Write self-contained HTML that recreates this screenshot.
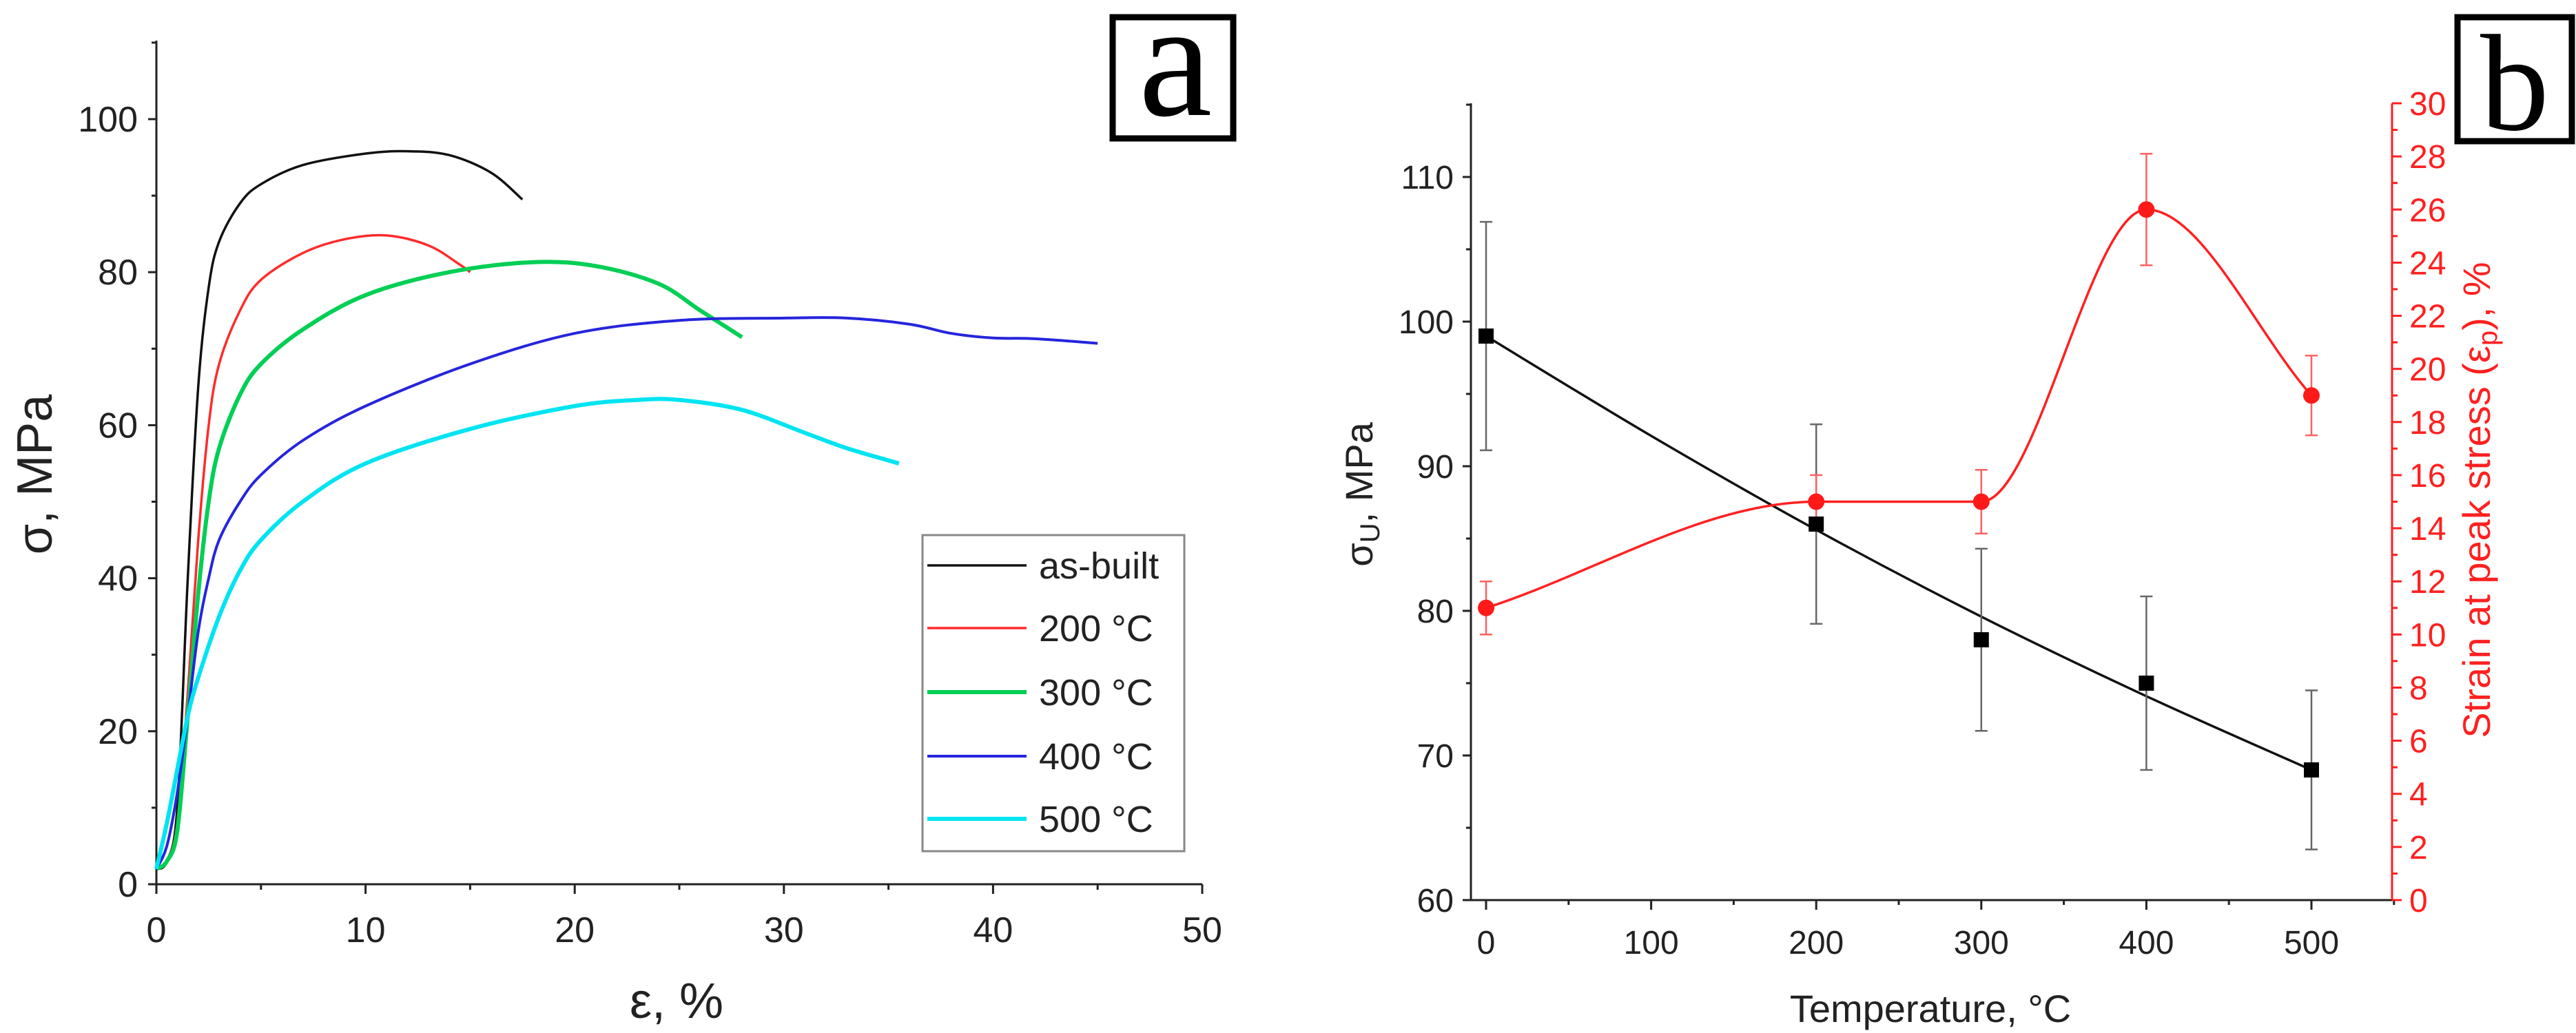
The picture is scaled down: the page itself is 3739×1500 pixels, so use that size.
<!DOCTYPE html>
<html><head><meta charset="utf-8"><style>
html,body{margin:0;padding:0;background:#fff}
svg{display:block}
text{font-family:"Liberation Sans",sans-serif}
</style></head><body>
<svg id="c" width="3739" height="1500" viewBox="0 0 3739 1500" xmlns="http://www.w3.org/2000/svg"></svg>
<script>
// ---- Panel a data ----
const seriesNames = ["as-built","200 °C","300 °C","400 °C","500 °C"];
const asBuiltStrain = [0,0.5,1,1.5,2,2.5,3,4,5,7,10,12,14,16,17.5];
const asBuiltStress = [2,3,10,40,65,78,84,89,91.5,94,95.5,95.8,95.3,93,89.5];
const t200Strain = [0,0.5,1,1.5,2,2.5,3,4,5,7,9,11,13,14.5,15];
const t200Stress = [2,3,8,25,45,60,68,75,79,82.5,84.3,84.8,83.5,81,80];
const t300Strain = [0,0.5,1,1.5,2,2.5,3,4,5,7,10,14,18,21,24,26,28];
const t300Stress = [2,3,7,22,38,50,57,64,68,72.5,77,80,81.3,80.8,78.5,75,71.5];
const t400Strain = [0,0.5,1,1.5,2,2.5,3,4,5,7,10,15,20,25,30,33,36,38,40,42,45];
const t400Stress = [2,5,12,22,33,40,45,50,53.5,58,62.5,68,72,73.7,74,74,73.2,72,71.4,71.3,70.7];
const t500Strain = [0,0.5,1,1.5,2,3,4,5,7,10,15,20,23,25,28,31,33,35.5];
const t500Stress = [2,8,15,22,27,35,41,45,50,55,59.5,62.5,63.3,63.3,62,59,57,55];
const aXTicks = [0,10,20,30,40,50];
const aYTicks = [0,20,40,60,80,100];
// ---- Panel b data ----
const temps = [0,200,300,400,500];
const uts = [99,86,78,75,69];
const utsErr = [7.9,6.9,6.3,6,5.5];
const utsFit = [99,92.1,85.6,79.6,74.1,69];
const fitTemps = [0,100,200,300,400,500];
const peakStrain = [11,15,15,26,19];
const peakStrainErr = [1,1,1.2,2.1,1.5];
const bXTicks = [0,100,200,300,400,500];
const bYTicks = [60,70,80,90,100,110];
const bY2Ticks = [0,2,4,6,8,10,12,14,16,18,20,22,24,26,28,30];

const svg = document.getElementById('c');
const NS = 'http://www.w3.org/2000/svg';
function mk(tag, attrs, parent){const e=document.createElementNS(NS,tag);for(const k in attrs)e.setAttribute(k,attrs[k]);(parent||svg).appendChild(e);return e;}

const ax = v => 227 + (v/50)*(1745-227);
const ay = v => 1284 - (v/100)*(1284-173);
const bx = v => 2157 + (v/500)*(3355-2157);
const by = v => 1307 - ((v-60)/50)*(1307-257);
const by2 = v => 1307 - (v/30)*(1307-150);

function catmull(pts){
  let d='M'+pts[0][0]+','+pts[0][1];
  for(let i=0;i<pts.length-1;i++){
    const p0=pts[i-1]||pts[i],p1=pts[i],p2=pts[i+1],p3=pts[i+2]||pts[i+1];
    const c1x=p1[0]+(p2[0]-p0[0])/6,c1y=p1[1]+(p2[1]-p0[1])/6;
    const c2x=p2[0]-(p3[0]-p1[0])/6,c2y=p2[1]-(p3[1]-p1[1])/6;
    d+=' C'+c1x+','+c1y+' '+c2x+','+c2y+' '+p2[0]+','+p2[1];
  }
  return d;
}
function monotone(pts){
  const n=pts.length,dx=[],m=[],t=new Array(n);
  for(let i=0;i<n-1;i++){dx[i]=pts[i+1][0]-pts[i][0];m[i]=(pts[i+1][1]-pts[i][1])/dx[i];}
  t[0]=m[0];t[n-1]=m[n-2];
  for(let i=1;i<n-1;i++){t[i]=(m[i-1]*m[i]<=0)?0:(m[i-1]+m[i])/2;}
  for(let i=0;i<n-1;i++){if(m[i]===0){t[i]=0;t[i+1]=0;continue;}
    const a=t[i]/m[i],b=t[i+1]/m[i],s=a*a+b*b;if(s>9){const k=3/Math.sqrt(s);t[i]=k*a*m[i];t[i+1]=k*b*m[i];}}
  let d='M'+pts[0][0]+','+pts[0][1];
  for(let i=0;i<n-1;i++){const h=dx[i]/3;
    d+=' C'+(pts[i][0]+h)+','+(pts[i][1]+t[i]*h)+' '+(pts[i+1][0]-h)+','+(pts[i+1][1]-t[i+1]*h)+' '+pts[i+1][0]+','+pts[i+1][1];}
  return d;
}

// ===== Panel a =====
const ga = mk('g',{});


let e;
e=mk('line',{x1:227,y1:59,x2:227,y2:1284,stroke:'#222','stroke-width':3},ga);

e=mk('line',{x1:227,y1:1284,x2:1745,y2:1284,stroke:'#222','stroke-width':3},ga);

for(let v=0;v<=110;v+=10){const y=ay(v);mk('line',{x1:227,y1:y,x2:v%20===0?215:220,y2:y,stroke:'#222','stroke-width':3},ga);}
for(let v=0;v<=50;v+=5){const x=ax(v);mk('line',{x1:x,y1:1284,x2:x,y2:v%10===0?1298:1292,stroke:'#222','stroke-width':3},ga);}
aYTicks.forEach(v=>{const t=mk('text',{x:200,y:ay(v)+18,'text-anchor':'end','font-size':52,fill:'#222'},ga);t.textContent=v;
});
aXTicks.forEach(v=>{const t=mk('text',{x:ax(v),y:1368,'text-anchor':'middle','font-size':52,fill:'#222'},ga);t.textContent=v;
});
e=mk('text',{x:982,y:1478,'text-anchor':'middle','font-size':72,fill:'#222'},ga);e.textContent='ε, %';

e=mk('text',{x:0,y:0,'text-anchor':'middle','font-size':72,fill:'#222',transform:'translate(75,689) rotate(-90)'},ga);e.textContent='σ, MPa';


const aSeries=[[asBuiltStrain,asBuiltStress,'#111',3.5],[t200Strain,t200Stress,'#ff2b2b',3.5],[t300Strain,t300Stress,'#00cf55',6],[t400Strain,t400Stress,'#2525dd',4],[t500Strain,t500Stress,'#00e4f2',6]];
const lineNames=['curve-as-built','curve-200c','curve-300c','curve-400c','curve-500c'];
aSeries.forEach((s,i)=>{
  const pts=s[0].map((x,j)=>[ax(x),ay(s[1][j])]);
  const p=mk('path',{d:catmull(pts),fill:'none',stroke:s[2],'stroke-width':s[3],'stroke-linejoin':'round'},ga);
  
  
});
const lg=mk('g',{},ga);


mk('rect',{x:1339,y:777,width:380,height:459,fill:'#fff',stroke:'#888','stroke-width':3},lg);
const legY=[821,912,1005,1098,1189];
seriesNames.forEach((n,i)=>{
  const ln=mk('line',{x1:1346,y1:legY[i],x2:1490,y2:legY[i],stroke:aSeries[i][2],'stroke-width':aSeries[i][3]},lg);
  
  const t=mk('text',{x:1508,y:legY[i]+19,'font-size':54,fill:'#222'},lg);t.textContent=n;
  
});
e=mk('rect',{x:1615,y:25,width:175,height:176,fill:'#fff',stroke:'#000','stroke-width':9},ga);

e=mk('text',{x:1706,y:167,'text-anchor':'middle','font-size':240,fill:'#000',style:'font-family:"Liberation Serif",serif'},ga);e.textContent='a';


// ===== Panel b =====
const gb=mk('g',{});


e=mk('line',{x1:2135,y1:150,x2:2135,y2:1307,stroke:'#222','stroke-width':3},gb);

e=mk('line',{x1:2135,y1:1307,x2:3472,y2:1307,stroke:'#222','stroke-width':3},gb);

e=mk('line',{x1:3472,y1:150,x2:3472,y2:1307,stroke:'#ff2020','stroke-width':3},gb);

for(let v=60;v<=115;v+=5){const y=by(v);mk('line',{x1:2135,y1:y,x2:v%10===0?2123:2128,y2:y,stroke:'#222','stroke-width':3},gb);}
for(let v=0;v<=550;v+=50){const x=bx(v);mk('line',{x1:x,y1:1307,x2:x,y2:v%100===0?1321:1314,stroke:'#222','stroke-width':3},gb);}
for(let v=0;v<=30;v+=1){const y=by2(v);mk('line',{x1:3472,y1:y,x2:v%2===0?3486:3480,y2:y,stroke:'#ff2020','stroke-width':3},gb);}
bYTicks.forEach(v=>{const t=mk('text',{x:2110,y:by(v)+17,'text-anchor':'end','font-size':48,fill:'#222'},gb);t.textContent=v;
});
bXTicks.forEach(v=>{const t=mk('text',{x:bx(v),y:1385,'text-anchor':'middle','font-size':48,fill:'#222'},gb);t.textContent=v;
});
bY2Ticks.forEach(v=>{const t=mk('text',{x:3497,y:by2(v)+17,'font-size':48,fill:'#ff2020'},gb);t.textContent=v;
});
e=mk('text',{x:2802,y:1484,'text-anchor':'middle','font-size':56,fill:'#222'},gb);e.textContent='Temperature, °C';

e=mk('text',{x:0,y:0,'text-anchor':'middle','font-size':56,fill:'#222',transform:'translate(1992,718) rotate(-90)'},gb);
e.innerHTML='σ<tspan font-size="40" dy="10">U</tspan><tspan dy="-10">, MPa</tspan>';

e=mk('text',{x:0,y:0,'text-anchor':'middle','font-size':56,fill:'#ff2020',transform:'translate(3614,726) rotate(-90)'},gb);
e.innerHTML='Strain at peak stress (ε<tspan font-size="40" dy="10">p</tspan><tspan dy="-10">), %</tspan>';


e=mk('path',{d:catmull(fitTemps.map((t,i)=>[bx(t),by(utsFit[i])])),fill:'none',stroke:'#111','stroke-width':3.5},gb);

e=mk('path',{d:monotone(temps.map((t,i)=>[bx(t),by2(peakStrain[i])])),fill:'none',stroke:'#ff2020','stroke-width':3.5},gb);

temps.forEach((t,i)=>{
  const x=bx(t);
  const y1=by(uts[i]+utsErr[i]),y2=by(uts[i]-utsErr[i]);
  const g=mk('g',{stroke:'#666','stroke-width':2.5},gb);
  
  mk('line',{x1:x,y1:y1,x2:x,y2:y2},g);mk('line',{x1:x-9,y1:y1,x2:x+9,y2:y1},g);mk('line',{x1:x-9,y1:y2,x2:x+9,y2:y2},g);
  const r1=by2(peakStrain[i]+peakStrainErr[i]),r2=by2(peakStrain[i]-peakStrainErr[i]);
  const g2=mk('g',{stroke:'#ff6060','stroke-width':2.5},gb);
  
  mk('line',{x1:x,y1:r1,x2:x,y2:r2},g2);mk('line',{x1:x-9,y1:r1,x2:x+9,y2:r1},g2);mk('line',{x1:x-9,y1:r2,x2:x+9,y2:r2},g2);
});
temps.forEach((t,i)=>{
  const m=mk('rect',{x:bx(t)-11,y:by(uts[i])-11,width:22,height:22,fill:'#000'},gb);
  
  const c=mk('circle',{cx:bx(t),cy:by2(peakStrain[i]),r:12,fill:'#ff1a1a'},gb);
  
});
e=mk('rect',{x:3567,y:25,width:166,height:180,fill:'#fff',stroke:'#000','stroke-width':9},gb);

e=mk('text',{x:3650,y:188,'text-anchor':'middle','font-size':200,fill:'#000',style:'font-family:"Liberation Serif",serif'},gb);e.textContent='b';

</script>
</body></html>
